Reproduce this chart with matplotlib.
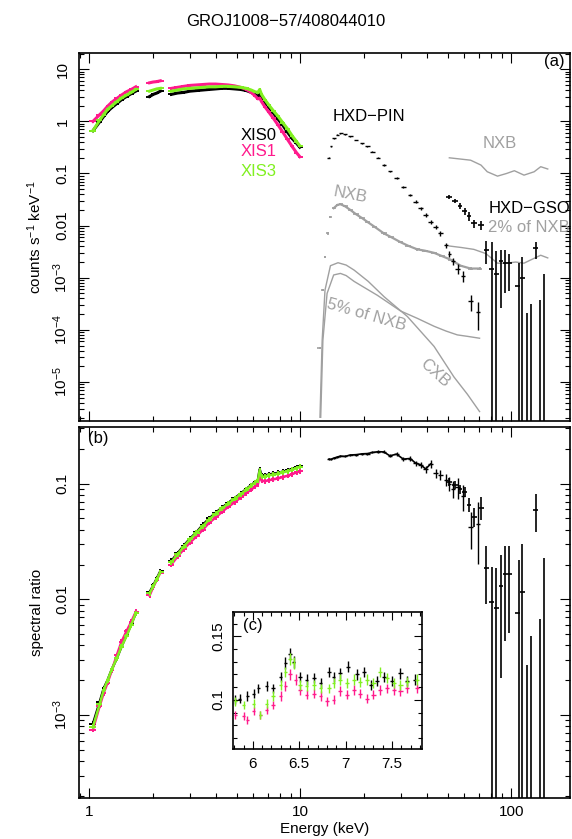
import numpy as np
import matplotlib.pyplot as plt
from matplotlib.ticker import NullFormatter, MultipleLocator, FormatStrFormatter

plt.rcParams['font.family'] = ['Liberation Sans', 'DejaVu Sans']
plt.rcParams['mathtext.fontset'] = 'custom'
plt.rcParams['mathtext.rm'] = 'Liberation Sans'
plt.rcParams['mathtext.it'] = 'Liberation Sans:italic'
plt.rcParams['mathtext.bf'] = 'Liberation Sans:bold'

PINK = '#ff1a8c'
GREEN = '#80f020'
GRAY = '#a0a0a0'

# ---- XIS spectra (counts s^-1 keV^-1) and ratios ----
xis_e = [1.04, 1.12, 1.17, 1.22, 1.28, 1.35, 1.42, 1.50, 1.58, 1.66,
         1.93, 2.01, 2.09, 2.17,
         2.45, 2.62, 2.80, 3.00, 3.22, 3.45, 3.70, 3.97, 4.25, 4.55, 4.88,
         5.22, 5.55, 5.85, 6.10, 6.30, 6.42, 6.55, 6.80, 7.10, 7.45, 7.85,
         8.25, 8.70, 9.15, 9.60, 9.95]
xis0_c = [0.66, 0.98, 1.25, 1.55, 1.85, 2.2, 2.6, 3.0, 3.4, 3.8,
          3.0, 3.3, 3.5, 3.8,
          3.3, 3.5, 3.6, 3.8, 3.9, 4.0, 4.1, 4.2, 4.3, 4.3, 4.2,
          4.1, 3.9, 3.6, 3.3, 3.0, 3.3, 2.8, 2.3, 1.85, 1.45, 1.1,
          0.85, 0.62, 0.47, 0.38, 0.32]
xis1_c = [1.0, 1.35, 1.6, 1.95, 2.35, 2.75, 3.2, 3.7, 4.1, 4.6,
          5.5, 5.7, 5.8, 6.0,
          4.3, 4.5, 4.7, 4.9, 5.0, 5.1, 5.2, 5.2, 5.1, 5.0, 4.8,
          4.5, 4.1, 3.6, 3.1, 2.7, 2.8, 2.4, 1.9, 1.5, 1.15, 0.85,
          0.63, 0.45, 0.33, 0.25, 0.21]
xis3_c = [0.66, 1.06, 1.35, 1.7, 2.0, 2.4, 2.8, 3.2, 3.6, 4.1,
          3.8, 4.0, 4.2, 4.3,
          3.8, 4.0, 4.2, 4.3, 4.4, 4.5, 4.6, 4.6, 4.7, 4.7, 4.6,
          4.5, 4.3, 4.0, 3.7, 3.6, 4.1, 3.3, 2.6, 2.05, 1.6, 1.25,
          0.95, 0.72, 0.53, 0.41, 0.34]
xis0_r = [8.4e-4, 1.3e-3, 1.7e-3, 2.0e-3, 2.5e-3, 3.1e-3, 3.9e-3, 4.9e-3, 6.1e-3, 7.6e-3,
          0.0115, 0.0132, 0.0152, 0.0175,
          0.0215, 0.025, 0.029, 0.0335, 0.038, 0.044, 0.050, 0.056, 0.062, 0.068, 0.075,
          0.082, 0.090, 0.097, 0.103, 0.108, 0.133, 0.118, 0.118, 0.120, 0.122, 0.124,
          0.127, 0.130, 0.134, 0.139, 0.142]
xis1_r = [7.5e-4, 1.2e-3, 1.55e-3, 1.9e-3, 2.45e-3, 3.3e-3, 4.3e-3, 5.3e-3, 6.4e-3, 7.8e-3,
          0.0108, 0.0128, 0.0148, 0.0170,
          0.020, 0.0235, 0.027, 0.031, 0.035, 0.040, 0.046, 0.051, 0.057, 0.063, 0.069,
          0.076, 0.083, 0.089, 0.094, 0.099, 0.120, 0.106, 0.105, 0.107, 0.109, 0.111,
          0.114, 0.117, 0.121, 0.125, 0.128]
xis3_r = [7.9e-4, 1.25e-3, 1.65e-3, 2.0e-3, 2.5e-3, 3.1e-3, 3.9e-3, 4.8e-3, 6.0e-3, 7.6e-3,
          0.0113, 0.013, 0.015, 0.0172,
          0.021, 0.0245, 0.0285, 0.033, 0.0375, 0.043, 0.049, 0.055, 0.061, 0.067, 0.074,
          0.081, 0.089, 0.096, 0.102, 0.107, 0.130, 0.115, 0.115, 0.118, 0.120, 0.122,
          0.125, 0.128, 0.132, 0.136, 0.140]

# ---- HXD-PIN ----
pin_e = [13.7, 14.0, 14.4, 15.0, 15.5, 16.3, 17.3, 18.4, 19.6, 20.8, 22.0, 23.4, 24.9,
         26.6, 28.6, 30.8, 33.2, 35.3, 37.2, 39.3, 41.5, 43.8, 46.2, 49.0, 50.8, 52.7,
         55.8, 59.0, 64.2, 69.6]
pin_c = [0.20, 0.33, 0.47, 0.56, 0.59, 0.57, 0.52, 0.44, 0.38, 0.33, 0.26, 0.20, 0.145,
         0.11, 0.083, 0.056, 0.039, 0.029, 0.0216, 0.016, 0.0118, 0.0093, 0.0071, 0.0042,
         0.0029, 0.0021, 0.0015, 0.00108, 3.5e-4, 2.2e-4]
pin_r = [0.163, 0.162, 0.166, 0.170, 0.173, 0.172, 0.177, 0.178, 0.181, 0.182, 0.186,
         0.189, 0.188, 0.174, 0.180, 0.163, 0.165, 0.150, 0.146, 0.134, 0.148, 0.124,
         0.120, 0.108, 0.100, 0.090, 0.093, 0.078, 0.042, 0.045]
pin_err = [0.02, 0.02, 0.02, 0.02, 0.02, 0.02, 0.02, 0.02, 0.02, 0.02, 0.02, 0.03, 0.03,
           0.03, 0.04, 0.04, 0.05, 0.05, 0.06, 0.07, 0.08, 0.09, 0.10, 0.12, 0.14, 0.16,
           0.2, 0.25, 0.35, 0.55]

# ---- HXD-GSO (nan = below zero, only the upper end of the bar is shown) ----
gso_e = [50.9, 54.2, 57.3, 60.1, 63.0, 66.6, 71.9, 76.0, 80.7, 85.0, 89.3, 93.2, 97.8,
         108.3, 113.0, 119.0, 124.0, 130.6, 136.5, 143.0]
gso_c = [0.035, 0.030, 0.024, 0.019, 0.015, 0.011, 0.0103, 3.4e-3, 1.5e-3, 1.2e-3,
         2.05e-3, 1.95e-3, 1.9e-3, 6.9e-4, 9.8e-4, np.nan, np.nan, 3.7e-3, np.nan, np.nan]
gso_c_hi = [0.038, 0.033, 0.027, 0.022, 0.018, 0.013, 0.0125, 5.0e-3, 4.8e-3, 3.2e-3,
            3.4e-3, 3.4e-3, 2.9e-3, 1.9e-3, 2.5e-3, 2.1e-4, 3.2e-4, 4.9e-3, 3.8e-4, 1.2e-3]
gso_c_lo = [0.032, 0.027, 0.021, 0.016, 0.012, 0.009, 0.0082, 1.8e-3, 1e-9, 1e-9,
            2.6e-4, 5.0e-4, 5.5e-4, 1e-9, 1e-9, 1e-9, 1e-9, 2.3e-3, 1e-9, 1e-9]
gso_r = [0.104, 0.098, 0.090, 0.085, 0.066, 0.052, 0.061, 0.0188, 0.0094, 0.0084,
         0.0130, 0.0165, 0.0165, 0.0076, 0.0116, np.nan, np.nan, 0.059, np.nan, np.nan]
gso_r_hi = [0.112, 0.106, 0.098, 0.094, 0.075, 0.062, 0.077, 0.0289, 0.0191, 0.0185,
            0.0241, 0.029, 0.029, 0.0219, 0.030, 0.0027, 0.0048, 0.0813, 0.0067, 0.0229]
gso_r_lo = [0.096, 0.090, 0.082, 0.076, 0.057, 0.042, 0.0485, 0.0092, 1e-9, 1e-9,
            0.00207, 0.0044, 0.0051, 1e-9, 1e-9, 1e-9, 1e-9, 0.0384, 1e-9, 1e-9]

# ---- backgrounds ----
nxb_e = [12.4, 12.75, 13.05, 13.5, 13.9, 14.4, 15.0, 15.5, 16.3, 17.3, 18.4, 19.6, 20.8,
         22.5, 24.9, 27.0, 29.9, 32.5, 35.9, 39.0, 43.1, 47.0, 51.9, 57.6, 64.2, 70.8]
nxb_c = [4.5e-5, 5.8e-4, 2.5e-3, 7.1e-3, 0.0147, 0.0216, 0.025, 0.0257, 0.0235, 0.0199,
         0.0165, 0.014, 0.0118, 0.0095, 0.0071, 0.0060, 0.0048, 0.0041, 0.0035, 0.0033,
         0.0030, 0.0026, 0.0022, 0.0017, 0.0015, 0.0015]
n5_e = [12.5, 12.8, 13.4, 14.4, 15.5, 16.5, 18.0, 20.5, 23.2, 26.5, 29.9, 35.9, 43.1,
        49.0, 55.5, 62.0, 70.8]
n5_c = [2.1e-6, 6.3e-5, 5.0e-4, 1.13e-3, 1.21e-3, 1.1e-3, 8.5e-4, 6.2e-4, 4.6e-4,
        3.2e-4, 2.3e-4, 1.66e-4, 1.17e-4, 9.5e-5, 8.0e-5, 7.5e-5, 6.9e-5]
cxb_e = [12.4, 12.7, 13.1, 13.9, 15.1, 16.5, 18.0, 21.0, 25.0, 32.2, 43.1, 53.5, 62.0, 70.8]
cxb_c = [2.1e-6, 6.3e-5, 5.8e-4, 1.7e-3, 1.94e-3, 1.75e-3, 1.4e-3, 8.5e-4, 4.3e-4,
         1.8e-4, 4.8e-5, 1.25e-5, 5.8e-6, 2.7e-6]
gnxb_e = [50.9, 57.0, 64.2, 71.9, 77.0, 86.1, 95.0, 103.5, 115.0, 128.5, 138.0, 149.0]
gnxb_c = [0.20, 0.19, 0.18, 0.145, 0.108, 0.089, 0.10, 0.113, 0.093, 0.108, 0.135, 0.122]
g2_e = [50.9, 58.0, 66.5, 75.9, 86.1, 95.0, 105.0, 115.0, 123.9, 138.0, 149.0]
g2_c = [4.06e-3, 3.8e-3, 3.5e-3, 2.9e-3, 1.9e-3, 1.9e-3, 2.0e-3, 1.9e-3, 2.2e-3, 2.7e-3, 2.4e-3]

# ---- inset (c): ratios 5.8-7.8 keV ----
in0_e = [5.81, 5.86, 5.94, 6.01, 6.06, 6.15, 6.22, 6.30, 6.35, 6.40, 6.44, 6.51, 6.58, 6.66,
         6.73, 6.82, 6.87, 6.94, 7.03, 7.12, 7.20, 7.27, 7.34, 7.41, 7.50, 7.59, 7.66, 7.75]
in0_r = [0.100, 0.101, 0.103, 0.105, 0.109, 0.111, 0.109, 0.118, 0.129, 0.136, 0.130, 0.118,
         0.116, 0.117, 0.113, 0.122, 0.118, 0.121, 0.126, 0.120, 0.122, 0.112, 0.115, 0.118,
         0.115, 0.121, 0.115, 0.116]
in1_e = [5.81, 5.90, 5.94, 6.01, 6.08, 6.15, 6.22, 6.30, 6.35, 6.40, 6.46, 6.51, 6.58, 6.66,
         6.73, 6.80, 6.87, 6.94, 7.01, 7.09, 7.16, 7.23, 7.30, 7.37, 7.45, 7.52, 7.59, 7.66, 7.77]
in1_r = [0.088, 0.087, 0.084, 0.091, 0.088, 0.092, 0.096, 0.103, 0.111, 0.120, 0.116, 0.108,
         0.104, 0.105, 0.103, 0.099, 0.100, 0.107, 0.104, 0.108, 0.105, 0.101, 0.104, 0.108,
         0.109, 0.108, 0.107, 0.109, 0.109]
in3_e = [5.81, 5.90, 6.01, 6.08, 6.15, 6.22, 6.30, 6.35, 6.40, 6.44, 6.51, 6.58, 6.66, 6.73,
         6.82, 6.87, 6.94, 7.01, 7.09, 7.16, 7.23, 7.30, 7.37, 7.45, 7.52, 7.59, 7.66, 7.77]
in3_r = [0.099, 0.096, 0.097, 0.088, 0.097, 0.103, 0.112, 0.122, 0.132, 0.129, 0.112, 0.111,
         0.112, 0.109, 0.109, 0.113, 0.116, 0.113, 0.116, 0.114, 0.116, 0.113, 0.122, 0.117,
         0.113, 0.112, 0.114, 0.116]


def halfwidths(e, cap):
    """half bin widths: half way (in log) to the neighbours, capped at cap*e"""
    e = np.asarray(e, float)
    mid = np.sqrt(e[1:] * e[:-1])
    lo = np.full_like(e, np.inf)
    hi = np.full_like(e, np.inf)
    lo[1:] = e[1:] - mid
    hi[:-1] = mid - e[:-1]
    return np.minimum(lo, e * cap), np.minimum(hi, e * cap)


def crosses(ax, e, v, frac, color, cap=0.03, lw=0.8, z=2):
    e = np.asarray(e, float)
    v = np.asarray(v, float)
    dv = v * np.asarray(frac, float)
    xl, xh = halfwidths(e, cap)
    ax.errorbar(e, v, xerr=[xl, xh], yerr=[dv, dv], fmt='none', ecolor=color,
                elinewidth=lw, capsize=0, zorder=z)


def band(ax, e, v, color, lw=2.0, z=2):
    # join neighbouring bins of the same chip, break at the energy gaps
    e = np.asarray(e, float)
    v = np.asarray(v, float)
    cut = np.where(e[1:] / e[:-1] > 1.1)[0] + 1
    for es, vs in zip(np.split(e, cut), np.split(v, cut)):
        ax.plot(es, vs, color=color, lw=lw, solid_joinstyle='round', zorder=z)


def bars(ax, e, v, lo, hi, color, lw=1.2):
    e = np.asarray(e, float)
    v = np.asarray(v, float)
    xl, xh = halfwidths(e, 0.035)
    ax.vlines(e, lo, hi, colors=color, lw=lw)
    ok = np.isfinite(v)
    ax.hlines(v[ok], (e - xl)[ok], (e + xh)[ok], colors=color, lw=lw)


fig = plt.figure(figsize=(5.72, 8.39), dpi=100)
ax1 = fig.add_axes([0.1386, 0.4982, 0.8579, 0.439])
ax2 = fig.add_axes([0.1386, 0.0489, 0.8579, 0.4418])
ax3 = fig.add_axes([0.4079, 0.1073, 0.3294, 0.1629])

fig.text(0.5, 1 - 22 / 839, 'GROJ1008\u221257/408044010', ha='center', va='center', fontsize=12)

# panel (a)
ax1.plot(cxb_e, cxb_c, color=GRAY, lw=1)
ax1.plot(n5_e, n5_c, color=GRAY, lw=1)
crosses(ax1, nxb_e, nxb_c, [0.05] * len(nxb_e), GRAY, cap=0.03, lw=1.2)
nxb_line = np.asarray(nxb_e) >= 14.4
ax1.plot(np.asarray(nxb_e)[nxb_line], np.asarray(nxb_c)[nxb_line], color=GRAY, lw=1.6)
ax1.plot(gnxb_e, gnxb_c, color=GRAY, lw=1)
ax1.plot(g2_e, g2_c, color=GRAY, lw=1)
crosses(ax1, pin_e, pin_c, pin_err, 'black', cap=0.025, lw=1)
bars(ax1, gso_e, gso_c, gso_c_lo, gso_c_hi, 'black')
for vals, col in ((xis0_c, 'black'), (xis1_c, PINK), (xis3_c, GREEN)):
    crosses(ax1, xis_e, vals, [0.05] * len(xis_e), col, cap=0.04, lw=1.4)
    band(ax1, xis_e, vals, col, lw=2.2)

ax1.text(5.2, 0.53, 'XIS0', color='black', fontsize=12, va='center')
ax1.text(5.2, 0.26, 'XIS1', color=PINK, fontsize=12, va='center')
ax1.text(5.2, 0.107, 'XIS3', color=GREEN, fontsize=12, va='center')
ax1.text(14.3, 1.24, 'HXD\u2212PIN', fontsize=12, va='center')
ax1.text(73.6, 0.378, 'NXB', color=GRAY, fontsize=12, va='center')
ax1.text(17.3, 0.0388, 'NXB', color=GRAY, fontsize=12, ha='center', va='center',
         rotation=-11, rotation_mode='anchor')
ax1.text(77.8, 0.0214, 'HXD\u2212GSO', fontsize=12, va='center')
ax1.text(77.8, 9.4e-3, '2% of NXB', color=GRAY, fontsize=12, va='center')
ax1.text(20.7, 1.93e-4, '5% of NXB', color=GRAY, fontsize=12, ha='center', va='center',
         rotation=-16, rotation_mode='anchor')
ax1.text(43.5, 1.5e-5, 'CXB', color=GRAY, fontsize=12, ha='center', va='center',
         rotation=-42, rotation_mode='anchor')
ax1.text(0.99, 0.975, '(a)', transform=ax1.transAxes, ha='right', va='center', fontsize=12)

# panel (b)
crosses(ax2, pin_e, pin_r, pin_err, 'black', cap=0.025, lw=1)
pin_line = np.asarray(pin_e) <= 41.5
ax2.plot(np.asarray(pin_e)[pin_line], np.asarray(pin_r)[pin_line], color='black', lw=1.2)
bars(ax2, gso_e, gso_r, gso_r_lo, gso_r_hi, 'black')
for vals, col in ((xis0_r, 'black'), (xis1_r, PINK), (xis3_r, GREEN)):
    crosses(ax2, xis_e, vals, [0.05] * len(xis_e), col, cap=0.04, lw=1.4)
    band(ax2, xis_e, vals, col, lw=1.8)
ax2.text(0.018, 0.971, '(b)', transform=ax2.transAxes, ha='left', va='center', fontsize=12)

for ax in (ax1, ax2):
    ax.set_xscale('log')
    ax.set_yscale('log')
    ax.set_xlim(0.896, 190)
    ax.tick_params(which='both', direction='in', top=True, right=True, width=0.8)
    ax.tick_params(which='major', length=7)
    ax.tick_params(which='minor', length=3.5)
    ax.tick_params(axis='y', labelrotation=90, pad=7, labelsize=11)
    ax.tick_params(axis='x', pad=5, labelsize=11)
    ax.xaxis.set_minor_formatter(NullFormatter())
    ax.yaxis.set_minor_formatter(NullFormatter())
    for s in ax.spines.values():
        s.set_linewidth(1.2)

ax1.set_ylim(1.78e-6, 20.8)
ax1.set_yticks([10, 1, 0.1, 0.01, 1e-3, 1e-4, 1e-5],
               ['10', '1', '0.1', '0.01', '$10^{-3}$', '$10^{-4}$', '$10^{-5}$'])
ax1.tick_params(axis='x', labelbottom=False)
ax1.set_ylabel('counts s$^{-1}$ keV$^{-1}$', fontsize=11)
ax1.yaxis.set_label_coords(-0.072, 0.5)

ax2.set_ylim(1.92e-4, 0.307)
ax2.set_yticks([0.1, 0.01, 1e-3], ['0.1', '0.01', '$10^{-3}$'])
ax2.set_xticks([1, 10, 100], ['1', '10', '100'])
ax2.set_ylabel('spectral ratio', fontsize=11)
ax2.yaxis.set_label_coords(-0.072, 0.5)
ax2.set_xlabel('Energy (keV)', fontsize=11, labelpad=2)

for ax in (ax1, ax2):
    for lab in ax.get_yticklabels():
        lab.set_va('center')

# inset (c)
crosses(ax3, in0_e, in0_r, [0.035] * len(in0_e), 'black', cap=0.003, lw=1)
crosses(ax3, in1_e, in1_r, [0.035] * len(in1_e), PINK, cap=0.003, lw=1)
crosses(ax3, in3_e, in3_r, [0.035] * len(in3_e), GREEN, cap=0.003, lw=1)
ax3.set_xlim(5.79, 7.82)
ax3.set_ylim(0.0613, 0.169)
ax3.xaxis.set_major_locator(MultipleLocator(0.5))
ax3.xaxis.set_minor_locator(MultipleLocator(0.1))
ax3.yaxis.set_major_locator(MultipleLocator(0.05))
ax3.yaxis.set_minor_locator(MultipleLocator(0.01))
ax3.xaxis.set_major_formatter(FormatStrFormatter('%g'))
ax3.yaxis.set_major_formatter(FormatStrFormatter('%g'))
ax3.tick_params(which='both', direction='in', top=True, right=True, width=0.8)
ax3.tick_params(which='major', length=6)
ax3.tick_params(which='minor', length=3)
ax3.tick_params(axis='y', labelrotation=90, pad=6, labelsize=11)
ax3.tick_params(axis='x', pad=6, labelsize=11)
for lab in ax3.get_yticklabels():
    lab.set_va('center')
for s in ax3.spines.values():
    s.set_linewidth(1.2)
ax3.text(0.053, 0.903, '(c)', transform=ax3.transAxes, ha='left', va='center', fontsize=12)

fig.savefig('out.png', dpi=100)
